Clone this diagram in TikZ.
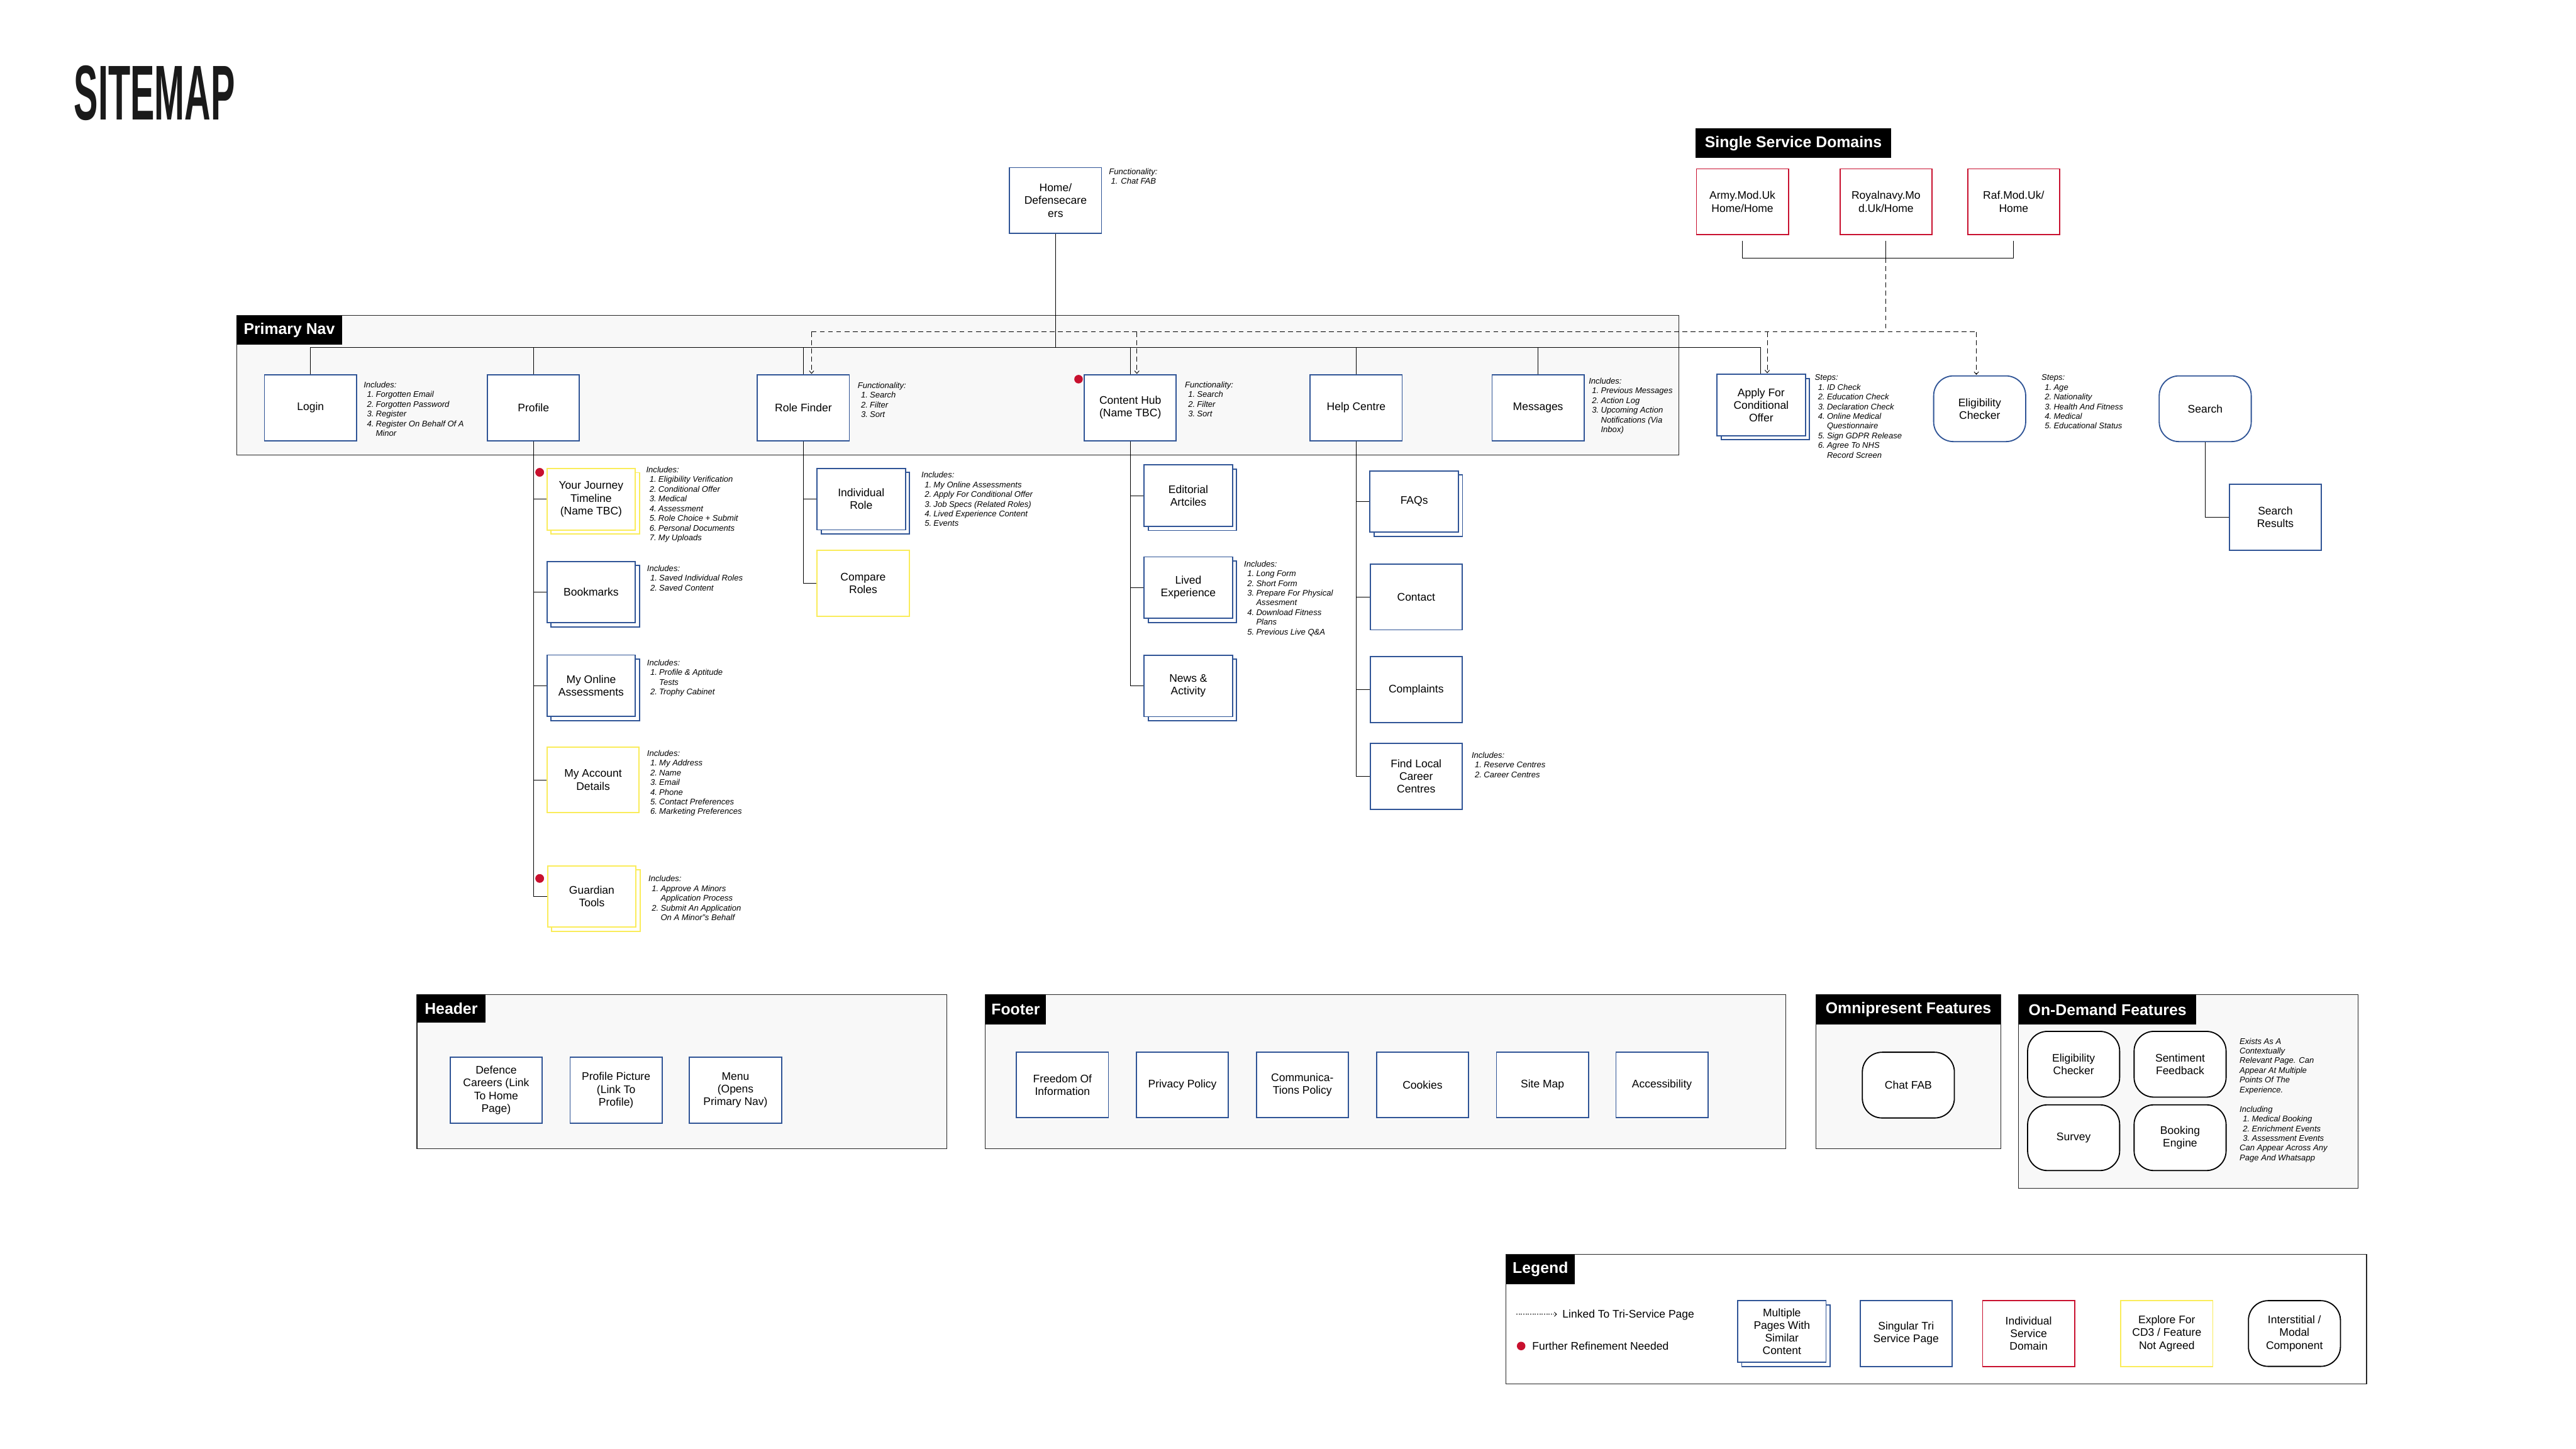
\documentclass[tikz,border=0pt]{standalone}
\usepackage{fontspec}
\setmainfont{Liberation Sans}
\usepackage{graphicx}
\usetikzlibrary{arrows.meta,shadows,calc}
\definecolor{navblue}{RGB}{47,84,150}
\definecolor{domred}{RGB}{200,16,46}
\definecolor{cdyellow}{RGB}{250,236,90}
\definecolor{panelgray}{RGB}{248,248,248}
\definecolor{inkblack}{RGB}{26,26,26}
\newcommand\boxfont{\fontsize{6.7mm}{7.7mm}\selectfont}
\newcommand\descfont{\fontsize{5mm}{5.9mm}\selectfont\itshape}
\newcommand\labfont{\fontsize{9.5mm}{11mm}\selectfont\bfseries}
\newcommand\lsitem[2]{\hspace*{2mm}\makebox[5.4mm][l]{#1}#2}
\newcommand\lscont[1]{\hspace*{7.4mm}#1}
\tikzset{
  pagebox/.style={draw=navblue, line width=0.7mm, fill=white, minimum width=56mm,
    minimum height=40mm, inner sep=0.5mm, align=center, font=\boxfont},
  multi/.style={minimum width=53.8mm, minimum height=37.4mm,
    copy shadow={shadow xshift=2.5mm, shadow yshift=-2.5mm}},
  domainbox/.style={pagebox, draw=domred},
  explorebox/.style={pagebox, draw=cdyellow},
  roundbox/.style={pagebox, rounded corners=12mm},
  modalbox/.style={roundbox, draw=black},
  desc/.style={anchor=north west, inner sep=0pt, align=left, font=\descfont},
  panel/.style={draw=black!85, line width=0.4mm, fill=panelgray},
  seclabel/.style={fill=black, text=white, font=\labfont, anchor=north west, inner sep=0pt},
  link/.style={line width=0.35mm, black},
  trilink/.style={line width=0.35mm, dash pattern=on 3mm off 2mm},
  triarrow/.style={trilink, -{Straight Barb[length=1.6mm,width=2.8mm]}, shorten >=0.3mm},
  legarrow/.style={line width=0.3mm, dash pattern=on 0.7mm off 0.7mm, -{Straight Barb[length=1.4mm,width=2.6mm]}},
  refdot/.style={circle, fill=domred, inner sep=0pt, minimum size=5.2mm},
  legtext/.style={anchor=west, inner sep=0pt, font=\boxfont},
}
\begin{document}
\begin{tikzpicture}[x=1mm,y=-1mm]
\useasboundingbox (0,0) rectangle (1568,882);
\fill[white] (0,0) rectangle (1568,882);

% Title
\node[anchor=north west, inner sep=0pt, text=inkblack] (title) at (45,40) {\resizebox{98mm}{33mm}{\bfseries SITEMAP}};

% Home
\node[pagebox] (home) at (642.5,122) {Home/\\Defensecare\\ers};
\node[desc] (homefn) at (675,102.5) {Functionality:\\\hspace*{1.2mm}1. Chat FAB};

% Single service domains
\node[seclabel, minimum width=119mm, minimum height=18.2mm] (sdlabel) at (1032,78) {Single Service Domains};
\node[domainbox] (army) at (1060.6,122.8) {Army.Mod.Uk\\Home/Home};
\node[domainbox] (navy) at (1148,122.8) {Royalnavy.Mo\\d.Uk/Home};
\node[domainbox] (raf) at (1225.7,122.8) {Raf.Mod.Uk/\\Home};

% Primary nav panel
\draw[panel] (144,192) rectangle (1022,277);
\node[seclabel, minimum width=64mm, minimum height=17.8mm] (pnlabel) at (144,192) {Primary Nav};

\coordinate (bus) at (189,211.4);
\coordinate (dashline) at (494,202);
\coordinate (dombus) at (1148,157);

% red dots drawn under boxes
\node[refdot] (dotch) at (656.5,230.8) {};
\node[refdot] (dotjt) at (328.5,287.5) {};
\node[refdot] (dotgt) at (328.5,534.7) {};

\node[pagebox] (login) at (189,248.2) {Login};
\node[pagebox] (profile) at (324.7,248.2) {Profile};
\node[pagebox] (rolefinder) at (489,248.2) {Role Finder};
\node[pagebox] (contenthub) at (688,248.2) {Content Hub\\(Name TBC)};
\node[pagebox] (help) at (825.5,248.2) {Help Centre};
\node[pagebox] (messages) at (936.2,248.2) {Messages};

\node[desc] (logininc) at (221.3,232.3) {Includes:\\\lsitem{1.}{Forgotten Email}\\\lsitem{2.}{Forgotten Password}\\\lsitem{3.}{Register}\\\lsitem{4.}{Register On Behalf Of A}\\\lscont{Minor}};
\node[desc] (rffn) at (522,232.7) {Functionality:\\\lsitem{1.}{Search}\\\lsitem{2.}{Filter}\\\lsitem{3.}{Sort}};
\node[desc] (chfn) at (721.2,232.3) {Functionality:\\\lsitem{1.}{Search}\\\lsitem{2.}{Filter}\\\lsitem{3.}{Sort}};
\node[desc] (msginc) at (967,230) {Includes:\\\lsitem{1.}{Previous Messages}\\\lsitem{2.}{Action Log}\\\lsitem{3.}{Upcoming Action}\\\lscont{Notifications (Via}\\\lscont{Inbox)}};

% Outside nav
\node[pagebox, multi] (apply) at (1072,246.5) {Apply For\\Conditional\\Offer};
\node[roundbox] (elig) at (1205,248.8) {Eligibility\\Checker};
\node[roundbox] (search) at (1342.3,248.8) {Search};
\node[pagebox] (searchres) at (1385,314.8) {Search\\Results};
\node[desc] (applysteps) at (1104.6,228) {Steps:\\\lsitem{1.}{ID Check}\\\lsitem{2.}{Education Check}\\\lsitem{3.}{Declaration Check}\\\lsitem{4.}{Online Medical}\\\lscont{Questionnaire}\\\lsitem{5.}{Sign GDPR Release}\\\lsitem{6.}{Agree To NHS}\\\lscont{Record Screen}};
\node[desc] (eligsteps) at (1242.6,228) {Steps:\\\lsitem{1.}{Age}\\\lsitem{2.}{Nationality}\\\lsitem{3.}{Health And Fitness}\\\lsitem{4.}{Medical}\\\lsitem{5.}{Educational Status}};

% Connectors: home bus
\draw[link] (home.south) -- (home.south |- bus);
\draw[link] (login.north) |- ([xshift=-0.5mm]apply.north |- bus) -- ([xshift=-0.5mm]apply.north);
\foreach \n in {profile,rolefinder,contenthub,help,messages}
  \draw[link] (\n.north) -- (\n.north |- bus);

% Domain connectors
\draw[link] ([yshift=-3.5mm]army.south) -- (army.south |- dombus) -| ([yshift=-3.5mm]raf.south);
\draw[link] ([yshift=-3.5mm]navy.south) -- (navy.south |- dombus);
\draw[trilink] (navy.south |- dombus) -- (navy.south |- dashline);
\draw[trilink] ([xshift=5mm]rolefinder.north |- dashline) -- ([xshift=-2mm]elig.north |- dashline);
\draw[triarrow] ([xshift=5mm]rolefinder.north |- dashline) -- ([xshift=5mm]rolefinder.north);
\draw[triarrow] ([xshift=4mm]contenthub.north |- dashline) -- ([xshift=4mm]contenthub.north);
\draw[triarrow] ([xshift=3.7mm]apply.north |- dashline) -- ([xshift=3.7mm]apply.north);
\draw[triarrow] ([xshift=-2mm]elig.north |- dashline) -- ([xshift=-2mm]elig.north);

\draw[link] (search.south) |- (searchres.west);

% Profile subtree
\node[explorebox, multi] (journey) at (359.8,303.9) {Your Journey\\Timeline\\(Name TBC)};
\node[pagebox, multi] (bookmarks) at (359.8,360.4) {Bookmarks};
\node[pagebox, multi] (myonline) at (359.8,417.4) {My Online\\Assessments};
\node[explorebox] (myaccount) at (361,474.7) {My Account\\Details};
\node[explorebox, multi] (guardian) at (360.2,545.7) {Guardian\\Tools};
\foreach \c in {journey,bookmarks,myonline,myaccount,guardian}
  \draw[link] (profile.south) |- (\c.west);
\node[refdot] at (dotjt) {};
\node[refdot] at (dotgt) {};

\node[desc] (journeyinc) at (393.3,284) {Includes:\\\lsitem{1.}{Eligibility Verification}\\\lsitem{2.}{Conditional Offer}\\\lsitem{3.}{Medical}\\\lsitem{4.}{Assessment}\\\lsitem{5.}{Role Choice + Submit}\\\lsitem{6.}{Personal Documents}\\\lsitem{7.}{My Uploads}};
\node[desc] (bookinc) at (393.8,344) {Includes:\\\lsitem{1.}{Saved Individual Roles}\\\lsitem{2.}{Saved Content}};
\node[desc] (myonlineinc) at (393.8,401.5) {Includes:\\\lsitem{1.}{Profile \& Aptitude}\\\lscont{Tests}\\\lsitem{2.}{Trophy Cabinet}};
\node[desc] (myaccinc) at (393.8,456.6) {Includes:\\\lsitem{1.}{My Address}\\\lsitem{2.}{Name}\\\lsitem{3.}{Email}\\\lsitem{4.}{Phone}\\\lsitem{5.}{Contact Preferences}\\\lsitem{6.}{Marketing Preferences}};
\node[desc] (guardinc) at (394.7,533) {Includes:\\\lsitem{1.}{Approve A Minors}\\\lscont{Application Process}\\\lsitem{2.}{Submit An Application}\\\lscont{On A Minor”s Behalf}};

% Role finder subtree
\node[pagebox, multi] (indrole) at (524.2,303.8) {Individual\\Role};
\node[explorebox] (compare) at (525.4,355) {Compare\\Roles};
\draw[link] (rolefinder.south) |- (indrole.west);
\draw[link] (rolefinder.south) |- (compare.west);
\node[desc] (indroleinc) at (560.8,287.2) {Includes:\\\lsitem{1.}{My Online Assessments}\\\lsitem{2.}{Apply For Conditional Offer}\\\lsitem{3.}{Job Specs (Related Roles)}\\\lsitem{4.}{Lived Experience Content}\\\lsitem{5.}{Events}};

% Content hub subtree
\node[pagebox, multi] (editorial) at (723.3,301.7) {Editorial\\Artciles};
\node[pagebox, multi] (lived) at (723.3,357.7) {Lived\\Experience};
\node[pagebox, multi] (news) at (723.3,417.5) {News \&\\Activity};
\foreach \c in {editorial,lived,news}
  \draw[link] (contenthub.south) |- (\c.west);
\node[desc] (livedinc) at (757.2,341.3) {Includes:\\\lsitem{1.}{Long Form}\\\lsitem{2.}{Short Form}\\\lsitem{3.}{Prepare For Physical}\\\lscont{Assesment}\\\lsitem{4.}{Download Fitness}\\\lscont{Plans}\\\lsitem{5.}{Previous Live Q\&A}};

% Help centre subtree
\node[pagebox, multi] (faqs) at (860.8,305.3) {FAQs};
\node[pagebox] (contact) at (862,363.4) {Contact};
\node[pagebox] (complaints) at (862,419.8) {Complaints};
\node[pagebox] (findlocal) at (862,472.6) {Find Local\\Career\\Centres};
\foreach \c in {faqs,contact,complaints,findlocal}
  \draw[link] (help.south) |- (\c.west);
\node[desc] (findinc) at (895.7,457.8) {Includes:\\\lsitem{1.}{Reserve Centres}\\\lsitem{2.}{Career Centres}};

% Header panel
\draw[panel] (253.8,605.3) rectangle (576.4,699.2);
\node[seclabel, minimum width=41.5mm, minimum height=16.9mm] (hdlabel) at (253.8,605.3) {Header};
\node[pagebox] (defence) at (302,663.6) {Defence\\Careers (Link\\To Home\\Page)};
\node[pagebox] (profpic) at (375,663.6) {Profile Picture\\(Link To\\Profile)};
\node[pagebox] (menu) at (447.7,663.6) {Menu\\(Opens\\Primary Nav)};

% Footer panel
\draw[panel] (599.6,605.3) rectangle (1087,699.2);
\node[seclabel, minimum width=37.1mm, minimum height=18.1mm] (ftlabel) at (599.6,605.3) {Footer};
\node[pagebox] (freedom) at (646.7,660.4) {Freedom Of\\Information};
\node[pagebox] (privacy) at (719.7,660.4) {Privacy Policy};
\node[pagebox] (comms) at (792.7,660.4) {Communica-\\Tions Policy};
\node[pagebox] (cookies) at (865.9,660.4) {Cookies};
\node[pagebox] (sitemap) at (938.9,660.4) {Site Map};
\node[pagebox] (access) at (1011.6,660.4) {Accessibility};

% Omnipresent
\draw[panel] (1105.4,605.3) rectangle (1217.8,699.2);
\node[seclabel, minimum width=112.4mm, minimum height=18.2mm] (omlabel) at (1105.4,605.3) {Omnipresent Features};
\node[modalbox] (chatfab) at (1161.6,660.5) {Chat FAB};

% On-demand
\draw[panel] (1228.8,605.3) rectangle (1435.5,723.2);
\node[seclabel, minimum width=108mm, minimum height=18.2mm] (odlabel) at (1228.8,605.3) {On-Demand Features};
\node[modalbox] (odelig) at (1262.2,647.8) {Eligibility\\Checker};
\node[modalbox] (sentiment) at (1327,647.8) {Sentiment\\Feedback};
\node[modalbox] (survey) at (1262.2,692.5) {Survey};
\node[modalbox] (booking) at (1327,692.5) {Booking\\Engine};
\node[desc] (odtext1) at (1363.2,631.8) {Exists As A\\Contextually\\Relevant Page. Can\\Appear At Multiple\\Points Of The\\Experience.};
\node[desc] (odtext2) at (1363.2,673.2) {Including\\\lsitem{1.}{Medical Booking}\\\lsitem{2.}{Enrichment Events}\\\lsitem{3.}{Assessment Events}\\Can Appear Across Any\\Page And Whatsapp};

% Legend
\draw[panel, fill=white] (916.8,763.6) rectangle (1440.5,842.3);
\node[seclabel, minimum width=41.5mm, minimum height=18.1mm] (lglabel) at (916.8,763.6) {Legend};
\coordinate (lga) at (923,800);
\coordinate (lgb) at (947.7,800);
\draw[legarrow] (lga) -- (lgb);
\node[legtext] (lgt1) at (951,800.5) {Linked To Tri-Service Page};
\node[refdot] (dotlg) at (925.9,819.3) {};
\node[legtext] (lgt2) at (932.6,819.3) {Further Refinement Needed};
\node[pagebox, multi] (lgmulti) at (1084.6,810.5) {Multiple\\Pages With\\Similar\\Content};
\node[pagebox] (lgsingle) at (1160.2,811.7) {Singular Tri\\Service Page};
\node[domainbox] (lgdomain) at (1234.8,811.7) {Individual\\Service\\Domain};
\node[explorebox] (lgexplore) at (1318.9,811.7) {Explore For\\CD3 / Feature\\Not Agreed};
\node[modalbox] (lgmodal) at (1396.6,811.7) {Interstitial /\\Modal\\Component};
\end{tikzpicture}
\end{document}
